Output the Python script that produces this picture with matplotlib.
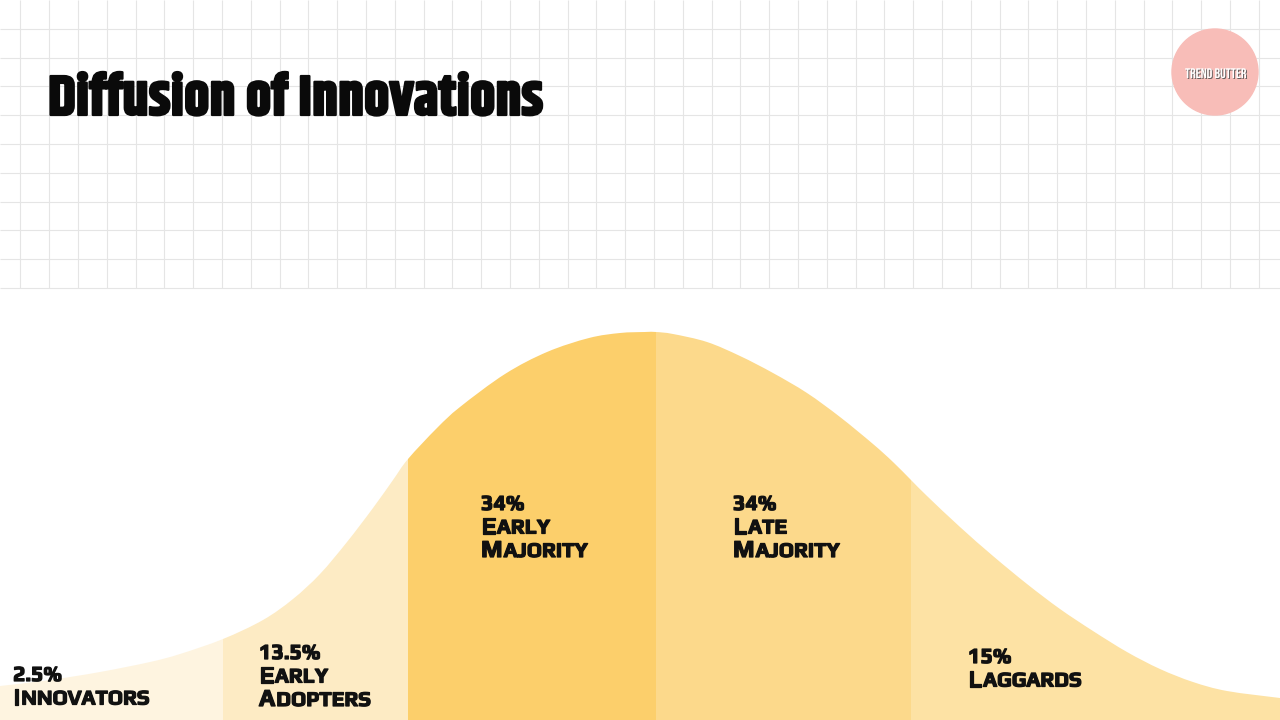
import matplotlib
matplotlib.use("Agg")
import matplotlib.pyplot as plt
import matplotlib.patheffects as pe
from matplotlib.patches import Circle, PathPatch
from matplotlib.path import Path

# bell curve: position along the adoption axis -> height of the curve
curve_x = [0, 50, 100, 150, 180, 223, 263, 293, 320, 347, 373, 393, 408, 437, 460,
           505, 547, 589, 620, 645, 656, 673, 707, 740, 773, 807, 840, 873, 893,
           911, 927, 960, 993, 1027, 1060, 1093, 1127, 1160, 1193, 1227, 1280]
curve_h = [34, 40, 48, 58, 66, 81, 100, 121, 146, 178, 212, 240, 261, 292, 313,
           346, 368, 382, 387, 388, 388, 386, 378, 364, 347, 327, 303, 276, 258,
           240, 224, 193, 164, 136, 111, 89, 68, 51, 38, 29, 22]

# adopter groups
segment_edges = [0, 223, 408, 656, 911, 1280]
segment_pcts = ["2.5%", "13.5%", "34%", "34%", "15%"]
segment_names = [["Innovators"], ["Early", "Adopters"], ["Early", "Majority"],
                 ["Late", "Majority"], ["Laggards"]]
segment_colors = ["#FEF4E0", "#FDEBC4", "#FCCF6B", "#FCD98B", "#FDE2A4"]

# where each label block starts (left x, first baseline)
label_pos = [(13, 39), (259, 61), (481, 210), (733, 210), (968, 57)]

W, H = 1280, 720
fig = plt.figure(figsize=(W / 100, H / 100), dpi=100)
fig.patch.set_facecolor("white")
ax = fig.add_axes([0, 0, 1, 1])
ax.set_xlim(0, W)
ax.set_ylim(0, H)
ax.axis("off")

# graph-paper band at the top
grid_step = 28.8
grid_bottom = 432
vx = [20.4 + grid_step * k for k in range(45)]
hy = [H - grid_step * k for k in range(1, 11)]
ax.vlines(vx, grid_bottom, H, colors="#e5e5e5", linewidth=0.8, zorder=0)
ax.hlines(hy, 0, W, colors="#e5e5e5", linewidth=0.8, zorder=0)

# smooth outline through the read points (catmull-rom as cubic beziers)
pts = list(zip(curve_x, curve_h))
verts = [(curve_x[0], 0), pts[0]]
codes = [Path.MOVETO, Path.LINETO]
for i in range(len(pts) - 1):
    p0 = pts[max(i - 1, 0)]
    p1, p2 = pts[i], pts[i + 1]
    p3 = pts[min(i + 2, len(pts) - 1)]
    c1 = (p1[0] + (p2[0] - p0[0]) / 6, p1[1] + (p2[1] - p0[1]) / 6)
    c2 = (p2[0] - (p3[0] - p1[0]) / 6, p2[1] - (p3[1] - p1[1]) / 6)
    verts += [c1, c2, p2]
    codes += [Path.CURVE4] * 3
verts += [(curve_x[-1], 0), (curve_x[0], 0)]
codes += [Path.LINETO, Path.CLOSEPOLY]
bell = PathPatch(Path(verts, codes), facecolor="none", edgecolor="none", transform=ax.transData)
ax.add_patch(bell)

for i, color in enumerate(segment_colors):
    band = ax.axvspan(segment_edges[i], segment_edges[i + 1], color=color, linewidth=0, zorder=1)
    band.set_clip_path(bell)

# title
ax.text(48, 605, "Diffusion of Innovations", fontsize=40.5, fontweight="bold",
        family=["Khand", "DejaVu Sans"], color="#0a0a0a", va="baseline", ha="left",
        path_effects=[pe.withStroke(linewidth=1.6, foreground="#0a0a0a")])

# logo
ax.add_patch(Circle((1215, 648), 43, color="#F8BDB8", zorder=2))
ax.text(1216, 647, "TREND BUTTER", fontsize=10,
        family=["Bebas Neue", "DejaVu Sans"], color="white",
        ha="center", va="center", zorder=3,
        path_effects=[pe.SimplePatchShadow(offset=(0.7, -0.7), shadow_rgbFace="#555555", alpha=0.9),
                      pe.Normal()])

renderer = fig.canvas.get_renderer()
ink = "#111111"
font = dict(family=["Play", "DejaVu Sans"], fontweight="bold", color=ink,
            va="baseline", ha="left", zorder=4,
            path_effects=[pe.withStroke(linewidth=0.9, foreground=ink)])
line_gap = 23.5


def small_caps(x, y, word, big=17.5, small=15):
    t = ax.text(x, y, word[0].upper(), fontsize=big, **font)
    bb = t.get_window_extent(renderer)
    x2 = ax.transData.inverted().transform((bb.x1, 0))[0]
    ax.text(x2 + 1, y, word[1:].upper(), fontsize=small, **font)


for (x, y), pct, names in zip(label_pos, segment_pcts, segment_names):
    ax.text(x, y, pct, fontsize=15.5, **font)
    for j, word in enumerate(names):
        small_caps(x, y - line_gap * (j + 1), word)

fig.savefig("out.png", dpi=100, facecolor="white")
